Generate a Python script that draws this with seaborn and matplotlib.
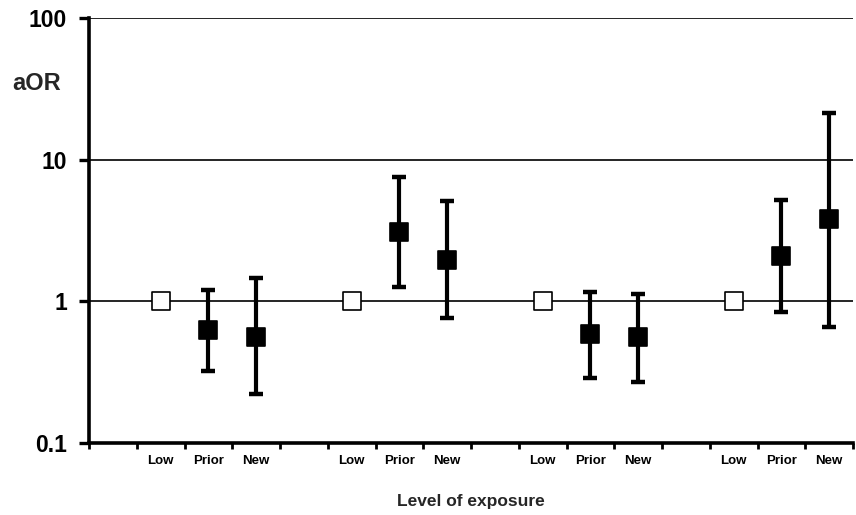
import numpy as np
import pandas as pd
import matplotlib
matplotlib.use("Agg")
import matplotlib.pyplot as plt
import seaborn as sns
from matplotlib.ticker import FixedLocator, NullFormatter, FixedFormatter

# ---- data ----
groups = [1, 2, 3, 4]
levels = ["Low", "Prior", "New"]
aor = [1.0, 0.63, 0.56, 1.0, 3.09, 1.97, 1.0, 0.59, 0.56, 1.0, 2.08, 3.79]
ci_low = [np.nan, 0.32, 0.22, np.nan, 1.26, 0.76, np.nan, 0.287, 0.268, np.nan, 0.836, 0.658]
ci_high = [np.nan, 1.21, 1.45, np.nan, 7.5, 5.1, np.nan, 1.17, 1.13, np.nan, 5.19, 21.5]
y_ticks = [0.1, 1, 10, 100]
y_tick_labels = ["0.1", "1", "10", "100"]

rows = []
i = 0
for g in groups:
    for j, lv in enumerate(levels):
        rows.append({"group": g, "level": lv, "slot": (g - 1) * 4 + j + 1,
                     "aor": aor[i], "lo": ci_low[i], "hi": ci_high[i]})
        i += 1
df = pd.DataFrame(rows)
n_slots = len(groups) * 4

sns.set_theme(style="white")
plt.rcParams["font.family"] = ["Liberation Sans", "DejaVu Sans"]
plt.rcParams["font.weight"] = "bold"

fig = plt.figure(figsize=(8.56, 5.15), dpi=100)
ax = fig.add_axes([89 / 856, 1 - 443 / 515, (853 - 89) / 856, (443 - 18) / 515])

ax.set_yscale("log")
ax.set_ylim(0.1, 100)
ax.set_xlim(-0.5, n_slots - 0.5)

# horizontal reference lines
for v in y_ticks[1:]:
    ax.axhline(v, color="black", lw=1.2, zorder=1)

# error bars
eb = df.dropna(subset=["lo"])
ax.errorbar(eb["slot"], eb["aor"], yerr=[eb["aor"] - eb["lo"], eb["hi"] - eb["aor"]],
            fmt="none", ecolor="black", elinewidth=3, capsize=5, capthick=3.2, zorder=2)

# markers
sns.scatterplot(data=df, x="slot", y="aor", hue="level",
                palette={"Low": "white", "Prior": "black", "New": "black"},
                marker="s", s=170, edgecolor="black", linewidth=1.2,
                legend=False, ax=ax, zorder=3, clip_on=False)

# axes styling
for s in ["top", "right"]:
    ax.spines[s].set_visible(False)
for s in ["left", "bottom"]:
    ax.spines[s].set_linewidth(2.6)
    ax.spines[s].set_color("black")

ax.yaxis.set_major_locator(FixedLocator(y_ticks))
ax.yaxis.set_major_formatter(FixedFormatter(y_tick_labels))
ax.yaxis.set_minor_locator(FixedLocator([]))
ax.tick_params(axis="y", which="major", left=True, length=7, width=2.4, direction="out",
               labelsize=16.5, pad=9, colors="black")

ax.xaxis.set_major_locator(FixedLocator(np.arange(-0.5, n_slots, 1.0)))
ax.xaxis.set_major_formatter(NullFormatter())
ax.xaxis.set_minor_locator(FixedLocator(df["slot"].tolist()))
ax.xaxis.set_minor_formatter(FixedFormatter(df["level"].tolist()))
ax.tick_params(axis="x", which="major", bottom=True, length=4, width=2, direction="out", colors="black")
ax.tick_params(axis="x", which="minor", bottom=True, length=0, labelsize=9.5, pad=9, colors="black")
for lab in ax.get_xticklabels(minor=True) + ax.get_yticklabels():
    lab.set_fontweight("bold")

ax.set_ylabel("")
ax.set_xlabel("Level of exposure", fontsize=12.5, fontweight="bold", labelpad=19)
fig.text(12 / 856, 1 - 83 / 515, "aOR", fontsize=17, fontweight="bold", ha="left", va="center")

fig.savefig("out.png", dpi=100)
